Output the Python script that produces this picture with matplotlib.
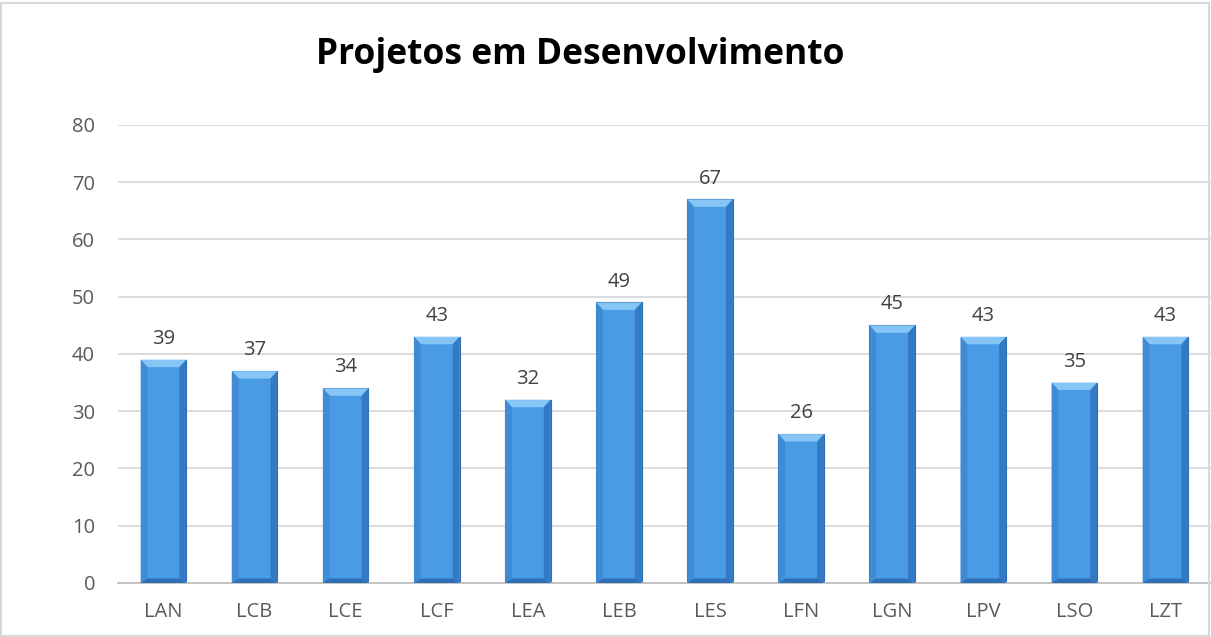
import matplotlib.pyplot as plt
from matplotlib.patches import Polygon, Rectangle

# Chart data
sites = ['LAN', 'LCB', 'LCE', 'LCF', 'LEA', 'LEB', 'LES', 'LFN', 'LGN', 'LPV', 'LSO', 'LZT']
projects = [39, 37, 34, 43, 32, 49, 67, 26, 45, 43, 35, 43]

plt.rcParams['font.family'] = ['Open Sans', 'DejaVu Sans']

fig = plt.figure(figsize=(12.11, 6.37), dpi=100)
ax = fig.add_axes([0.0974, 0.0848, 0.9026, 0.719])

x = range(len(sites))
width = 0.5
face = '#4a9be6'
bars = ax.bar(x, projects, width=width, color=face, edgecolor='#2d6cb0',
              linewidth=0.8, zorder=2)

# bevel look: lighter top, darker sides and bottom
bx = 0.075   # ~7 px
by = 1.3     # ~7 px
for b in bars:
    x0 = b.get_x()
    x1 = x0 + b.get_width()
    h = b.get_height()
    ax.add_patch(Polygon([(x0, h), (x1, h), (x1 - bx, h - by), (x0 + bx, h - by)],
                         closed=True, facecolor='#86c6f6', edgecolor='none', zorder=3))
    ax.add_patch(Polygon([(x0, 0), (x0 + bx, by * 0.6), (x0 + bx, h - by), (x0, h)],
                         closed=True, facecolor='#3f8bd6', edgecolor='none', zorder=3))
    ax.add_patch(Polygon([(x1, 0), (x1 - bx, by * 0.6), (x1 - bx, h - by), (x1, h)],
                         closed=True, facecolor='#3479c4', edgecolor='none', zorder=3))
    ax.add_patch(Polygon([(x0, 0), (x1, 0), (x1 - bx, by * 0.6), (x0 + bx, by * 0.6)],
                         closed=True, facecolor='#2f6fb5', edgecolor='none', zorder=3))
    ax.text(b.get_x() + b.get_width() / 2, h + 1.9, str(h), ha='center', va='bottom',
            fontsize=14.5, color='#404040')

ax.set_xlim(-0.5, len(sites) - 0.5)
ax.set_ylim(0, 80)
ax.set_yticks(range(0, 81, 10))
ax.set_xticks(list(x))
ax.set_xticklabels(sites)
ax.tick_params(axis='both', length=0, labelsize=14.5, labelcolor='#595959')
ax.tick_params(axis='x', pad=14)
ax.tick_params(axis='y', pad=16.5)
ax.grid(axis='y', color='#d9d9d9', linewidth=1.3, zorder=0)
ax.set_axisbelow(True)
for side in ['left', 'right', 'top']:
    ax.spines[side].set_visible(False)
ax.spines['bottom'].set_color('#bfbfbf')
ax.spines['bottom'].set_linewidth(1.3)

fig.text(0.479, 0.913, 'Projetos em Desenvolvimento', ha='center', va='center',
         fontsize=25.5, fontweight='bold', color='#000000')

# outer chart border
fig.patches.append(Rectangle((0.001, 0.002), 0.997, 0.994, transform=fig.transFigure,
                             fill=False, edgecolor='#d9d9d9', linewidth=1.5))

fig.savefig('out.png', dpi=100)
